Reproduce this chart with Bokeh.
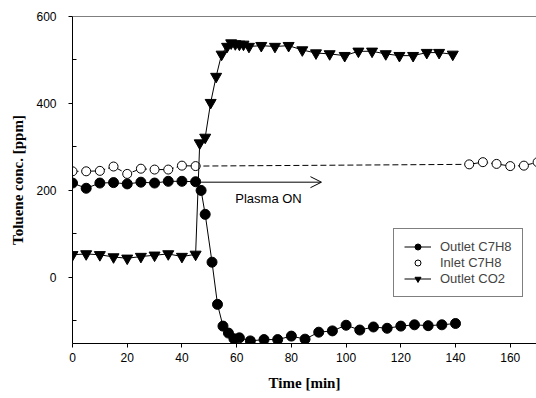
from bokeh.plotting import figure
from bokeh.models import (ColumnDataSource, FixedTicker, Span, Arrow, OpenHead,
                          Label, Legend, LegendItem, Range1d)
from bokeh.embed import file_html
from bokeh.resources import INLINE

# ---- data ----
outlet_c7h8_t = [0, 5, 10, 15, 20, 25, 30, 35, 40, 45, 47, 48.5, 51, 53, 55, 57, 59, 61,
                 65, 70, 75, 80, 85, 90, 95, 100, 105, 110, 115, 120, 125, 130, 135, 140]
outlet_c7h8_v = [217, 205, 217, 218, 215, 219, 217, 221, 221, 220, 200, 145, 35, -62, -112,
                 -128, -141, -139, -146, -143, -143, -135, -142, -126, -123, -110, -121,
                 -114, -117, -112, -109, -111, -109, -106]

inlet_c7h8_t = [0, 5, 10, 15, 20, 25, 30, 35, 40, 45, 145, 150, 155, 160, 165, 170]
inlet_c7h8_v = [244, 244, 245, 255, 238, 250, 248, 248, 257, 256, 260, 265, 261, 256, 257, 265]

outlet_co2_t = [0, 5, 10, 15, 20, 25, 30, 35, 40, 45, 46.5, 48.5, 50.5, 52.5, 54.5, 56.5, 58,
                59.5, 61, 62.5, 64.5, 69, 74, 79, 84, 89, 94, 99.5, 104.5, 109.5, 114.5,
                119.5, 124.5, 129.5, 134, 139]
outlet_co2_v = [52, 54, 52, 47, 44, 48, 51, 54, 48, 53, 309, 322, 402, 462, 513, 531, 539,
                537, 536, 536, 531, 533, 531, 533, 523, 516, 514, 510, 520, 520, 514, 510,
                510, 517, 517, 513]

x_ticks = [0, 20, 40, 60, 80, 100, 120, 140, 160]
y_ticks = [0, 200, 400, 600]
y_minor_ticks = [-100, 100, 300, 500]

# annotation: "Plasma ON" arrow
arrow_start = (45.5, 219)
arrow_end = (91, 219)
plasma_label_pos = (59.5, 182)
plasma_label = "Plasma ON"

SANS = "Liberation Sans"
SERIF = "Liberation Serif"

p = figure(width=536, height=398, output_backend="svg", toolbar_location=None,
           x_range=Range1d(0, 169.6), y_range=Range1d(-152, 600),
           min_border_left=72, min_border_right=0, min_border_top=16, min_border_bottom=55)
p.outline_line_color = None
p.xgrid.visible = False
p.ygrid.visible = False
p.background_fill_color = "white"

# top border
p.add_layout(Span(location=600, dimension="width", line_color="black", line_width=1))

src1 = ColumnDataSource(dict(x=outlet_c7h8_t, y=outlet_c7h8_v))
src2 = ColumnDataSource(dict(x=inlet_c7h8_t, y=inlet_c7h8_v))
src3 = ColumnDataSource(dict(x=outlet_co2_t, y=outlet_co2_v))

l2 = p.line("x", "y", source=src2, line_color="black", line_width=1, line_dash="6 3")
c2 = p.scatter("x", "y", source=src2, marker="circle", size=9, fill_color="white",
               line_color="black", line_width=1)
l3 = p.line("x", "y", source=src3, line_color="black", line_width=1)
c3 = p.scatter("x", "y", source=src3, marker="inverted_triangle", size=11,
               fill_color="black", line_color="black")
l1 = p.line("x", "y", source=src1, line_color="black", line_width=1)
c1 = p.scatter("x", "y", source=src1, marker="circle", size=10,
               fill_color="black", line_color="black")

p.add_layout(Arrow(end=OpenHead(size=11, line_width=1, line_color="black"),
                   x_start=arrow_start[0], y_start=arrow_start[1],
                   x_end=arrow_end[0], y_end=arrow_end[1],
                   line_color="black", line_width=1))
p.add_layout(Label(x=plasma_label_pos[0], y=plasma_label_pos[1], text=plasma_label,
                   text_font=SANS, text_font_size="13px", text_align="left",
                   text_baseline="middle", text_color="black"))

legend = Legend(items=[
    LegendItem(label="Outlet C7H8", renderers=[l1, c1]),
    LegendItem(label="Inlet C7H8", renderers=[c2]),
    LegendItem(label="Outlet CO2", renderers=[l3, c3]),
], location=(321, 46))
legend.border_line_color = "black"
legend.border_line_width = 1
legend.background_fill_alpha = 1
legend.label_text_font = SANS
legend.label_text_font_size = "13px"
legend.glyph_width = 27
legend.glyph_height = 15
legend.label_height = 15
legend.spacing = 1
legend.padding = 10
legend.margin = 0
legend.label_standoff = 9
p.add_layout(legend)

# axes
for ax in (p.xaxis[0], p.yaxis[0]):
    ax.axis_line_color = "black"
    ax.major_tick_line_color = "black"
    ax.minor_tick_line_color = "black"
    ax.major_tick_out = 4
    ax.major_tick_in = 0
    ax.major_label_text_font = SANS
    ax.major_label_text_font_size = "12px"
    ax.major_label_text_color = "black"
    ax.axis_label_text_font = SERIF
    ax.axis_label_text_font_style = "bold"
    ax.axis_label_text_font_size = "15px"
    ax.axis_label_text_color = "black"

p.xaxis.ticker = FixedTicker(ticks=x_ticks)
p.xaxis.minor_tick_line_color = None
p.xaxis.axis_label = "Time [min]"
p.xaxis.major_label_standoff = 5
p.xaxis.axis_label_standoff = 10

p.yaxis.ticker = FixedTicker(ticks=y_ticks, minor_ticks=y_minor_ticks)
p.yaxis.minor_tick_in = 4
p.yaxis.minor_tick_out = 0
p.yaxis.axis_label = "Toluene conc. [ppm]"
p.yaxis.major_label_standoff = 12
p.yaxis.axis_label_standoff = 7

open("out.html", "w").write(file_html(p, INLINE))
